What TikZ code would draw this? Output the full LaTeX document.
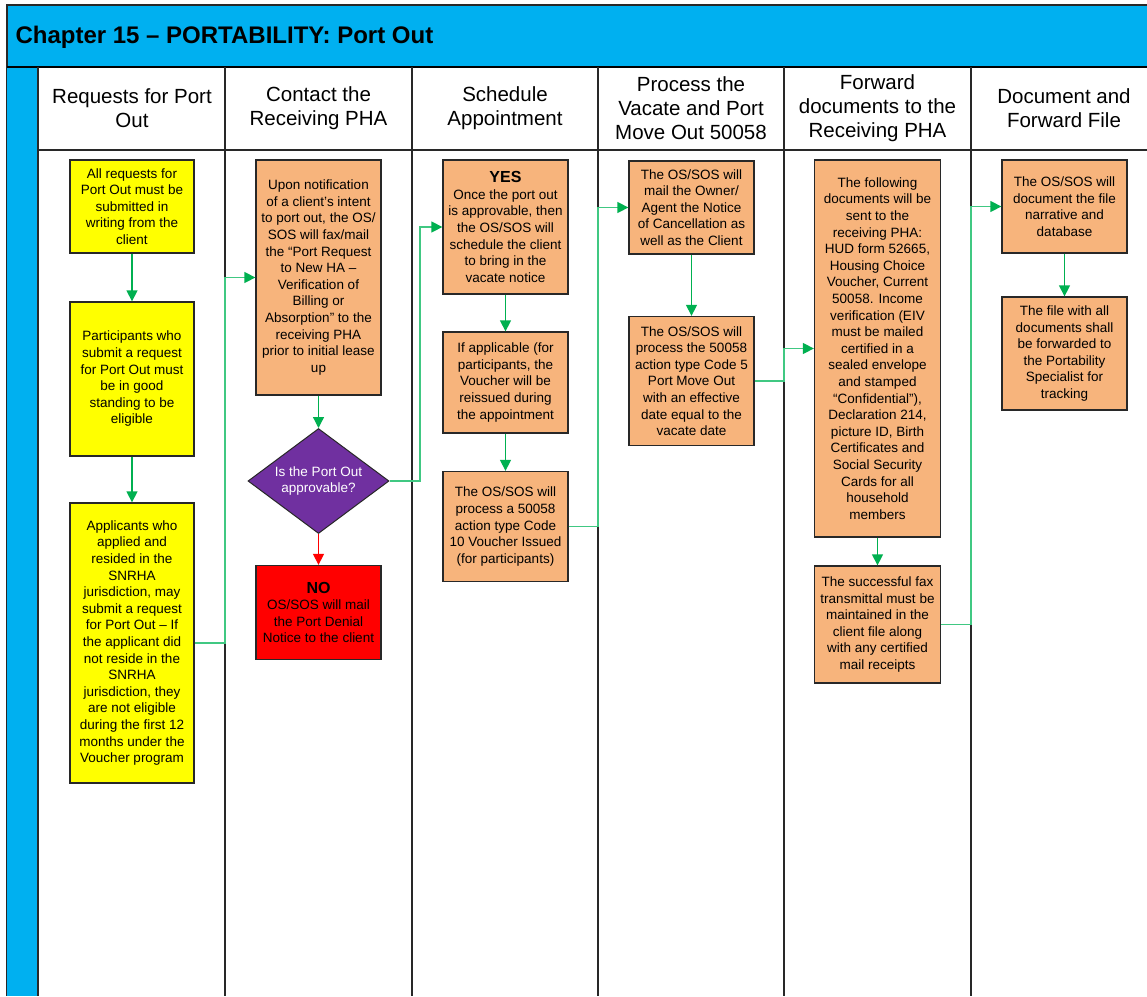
\documentclass[tikz,border=0pt]{standalone}
\usepackage{fontspec}
\setmainfont{Liberation Sans}
\usetikzlibrary{arrows.meta,shapes.geometric}
\definecolor{hdrblue}{RGB}{0,176,240}
\definecolor{boxyellow}{RGB}{255,255,0}
\definecolor{boxorange}{RGB}{247,180,124}
\definecolor{boxred}{RGB}{255,0,0}
\definecolor{dpurple}{RGB}{112,48,160}
\definecolor{agreen}{RGB}{0,176,80}
\definecolor{egreen}{RGB}{64,200,130}
\definecolor{framec}{RGB}{40,40,40}
\begin{document}
\begin{tikzpicture}[x=1pt,y=-1pt,
  box/.style={draw=framec, line width=1.3pt, align=center, inner sep=0pt, minimum width=125pt, font=\fontsize{13.5}{16.6}\selectfont},
  ybox/.style={box, fill=boxyellow},
  obox/.style={box, fill=boxorange},
  rbox/.style={box, fill=boxred},
  dia/.style={diamond, aspect=1.34, draw=framec, line width=1pt, fill=dpurple, text=white, inner sep=0pt, align=center, minimum width=141pt, minimum height=105pt, font=\fontsize{13.5}{16.6}\selectfont},
  colhead/.style={align=center, font=\fontsize{20.5}{24}\selectfont},
  lane/.style={draw=framec, line width=1.4pt},
  varrow/.style={draw=agreen, line width=1.3pt, -{Triangle[length=11pt,width=11pt]}},
  elbow/.style={draw=egreen, line width=1.4pt, -{Triangle[length=11pt,width=11pt,color=agreen]}},
  redarrow/.style={draw=boxred, line width=1.3pt, -{Triangle[length=11pt,width=11pt]}}
]
\useasboundingbox (0,0) rectangle (1147,996);
\clip (0,0) rectangle (1147,996);
\fill[white] (0,0) rectangle (1147,996);
% header bar
\fill[hdrblue] (7,5) rectangle (1160,67);
\draw[framec, line width=1.4pt] (1160,5) -- (7,5) -- (7,996);
\node[anchor=base west, font=\bfseries\fontsize{24}{27}\selectfont] (title) at (12,43) {Chapter 15 – PORTABILITY: Port Out};
% left blue strip
\fill[hdrblue] (7,67) rectangle (38,996);
\draw[black, line width=2.6pt] (7,67) -- (1160,67);
\draw[lane] (38,67) -- (38,996);
\draw[lane] (38,150) -- (1160,150);
\foreach \xx in {225,412,598,784,971} {\draw[lane] (\xx,67) -- (\xx,996);}
% lane helper coordinates
\coordinate (l1) at (225,0);
\coordinate (k2) at (420,0);
\coordinate (l3) at (598,0);
\coordinate (l4) at (784,0);
\coordinate (l5) at (971,0);
% column headers
\node[colhead] (h1) at (132,108) {Requests for Port\\Out};
\node[colhead] (h2) at (318.5,108) {Contact the\\Receiving PHA};
\node[colhead] (h3) at (505,108) {Schedule\\Appointment};
\node[colhead] (h4) at (691,108) {Process the\\Vacate and Port\\Move Out 50058};
\node[colhead] (h5) at (877.5,108) {Forward\\documents to the\\Receiving PHA};
\node[colhead] (h6) at (1064,108) {Document and\\Forward File};
% column 1
\node[ybox, minimum width=124pt, minimum height=93pt] (b1) at (132,206.5) {All requests for\\Port Out must be\\submitted in\\writing from the\\client};
\node[ybox, minimum width=124pt, minimum height=154pt] (b2) at (132,379) {Participants who\\submit a request\\for Port Out must\\be in good\\standing to be\\eligible};
\node[ybox, minimum width=124pt, minimum height=280pt] (b3) at (132,643) {Applicants who\\applied and\\resided in the\\SNRHA\\jurisdiction, may\\submit a request\\for Port Out – If\\the applicant did\\not reside in the\\SNRHA\\jurisdiction, they\\are not eligible\\during the first 12\\months under the\\Voucher program};
% column 2
\node[obox, minimum height=235pt] (c1) at (318.5,277.5) {Upon notification\\of a client's intent\\to port out, the OS/\\SOS will fax/mail\\the “Port Request\\to New HA –\\Verification of\\Billing or\\Absorption” to the\\receiving PHA\\prior to initial lease\\up};
\node[dia] (q) at (318.5,481) {Is the Port Out\\approvable?};
\node[rbox, minimum height=94pt] (no) at (318.5,612.5) {{\bfseries\fontsize{16}{18}\selectfont NO}\\OS/SOS will mail\\the Port Denial\\Notice to the client};
% column 3
\node[obox, minimum height=134pt] (d1) at (505.5,227) {{\bfseries\fontsize{16}{18}\selectfont YES}\\Once the port out\\is approvable, then\\the OS/SOS will\\schedule the client\\to bring in the\\vacate notice};
\node[obox, minimum height=101pt] (d2) at (505.5,382.5) {If applicable (for\\participants, the\\Voucher will be\\reissued during\\the appointment};
\node[obox, minimum height=110pt] (d3) at (505.5,526.5) {The OS/SOS will\\process a 50058\\action type Code\\10 Voucher Issued\\(for participants)};
% column 4
\node[obox, minimum height=93pt] (e1) at (691.5,207.5) {The OS/SOS will\\mail the Owner/\\Agent the Notice\\of Cancellation as\\well as the Client};
\node[obox, minimum height=129pt] (e2) at (691.5,381) {The OS/SOS will\\process the 50058\\action type Code 5\\Port Move Out\\with an effective\\date equal to the\\vacate date};
% column 5
\node[obox, minimum width=126pt, minimum height=377pt] (f1) at (877.5,348.5) {The following\\documents will be\\sent to the\\receiving PHA:\\HUD form 52665,\\Housing Choice\\Voucher, Current\\50058. Income\\verification (EIV\\must be mailed\\certified in a\\sealed envelope\\and stamped\\“Confidential”),\\Declaration 214,\\picture ID, Birth\\Certificates and\\Social Security\\Cards for all\\household\\members};
\node[obox, minimum width=126pt, minimum height=117pt] (f2) at (877.5,624.5) {The successful fax\\transmittal must be\\maintained in the\\client file along\\with any certified\\mail receipts};
% column 6
\node[obox, minimum height=93pt] (g1) at (1064.5,206.5) {The OS/SOS will\\document the file\\narrative and\\database};
\node[obox, minimum height=113pt] (g2) at (1064.5,353.5) {The file with all\\documents shall\\be forwarded to\\the Portability\\Specialist for\\tracking};
% connectors
\draw[varrow] (b1.south) -- (b2.north);
\draw[varrow] (b2.south) -- (b3.north);
\draw[elbow] (b3.east) -| (c1.west -| l1) -- (c1.west);
\draw[varrow] (c1.south) -- (q.north);
\draw[redarrow] (q.south) -- (no.north);
\draw[elbow] (q.east) -| (d1.west -| k2) -- (d1.west);
\draw[varrow] (d1.south) -- (d2.north);
\draw[varrow] (d2.south) -- (d3.north);
\draw[elbow] (d3.east) -| (e1.west -| l3) -- (e1.west);
\draw[varrow] (e1.south) -- (e2.north);
\draw[elbow] (e2.east) -| (f1.west -| l4) -- (f1.west);
\draw[varrow] (f1.south) -- (f2.north);
\draw[elbow] (f2.east) -| (g1.west -| l5) -- (g1.west);
\draw[varrow] (g1.south) -- (g2.north);
\end{tikzpicture}
\end{document}
